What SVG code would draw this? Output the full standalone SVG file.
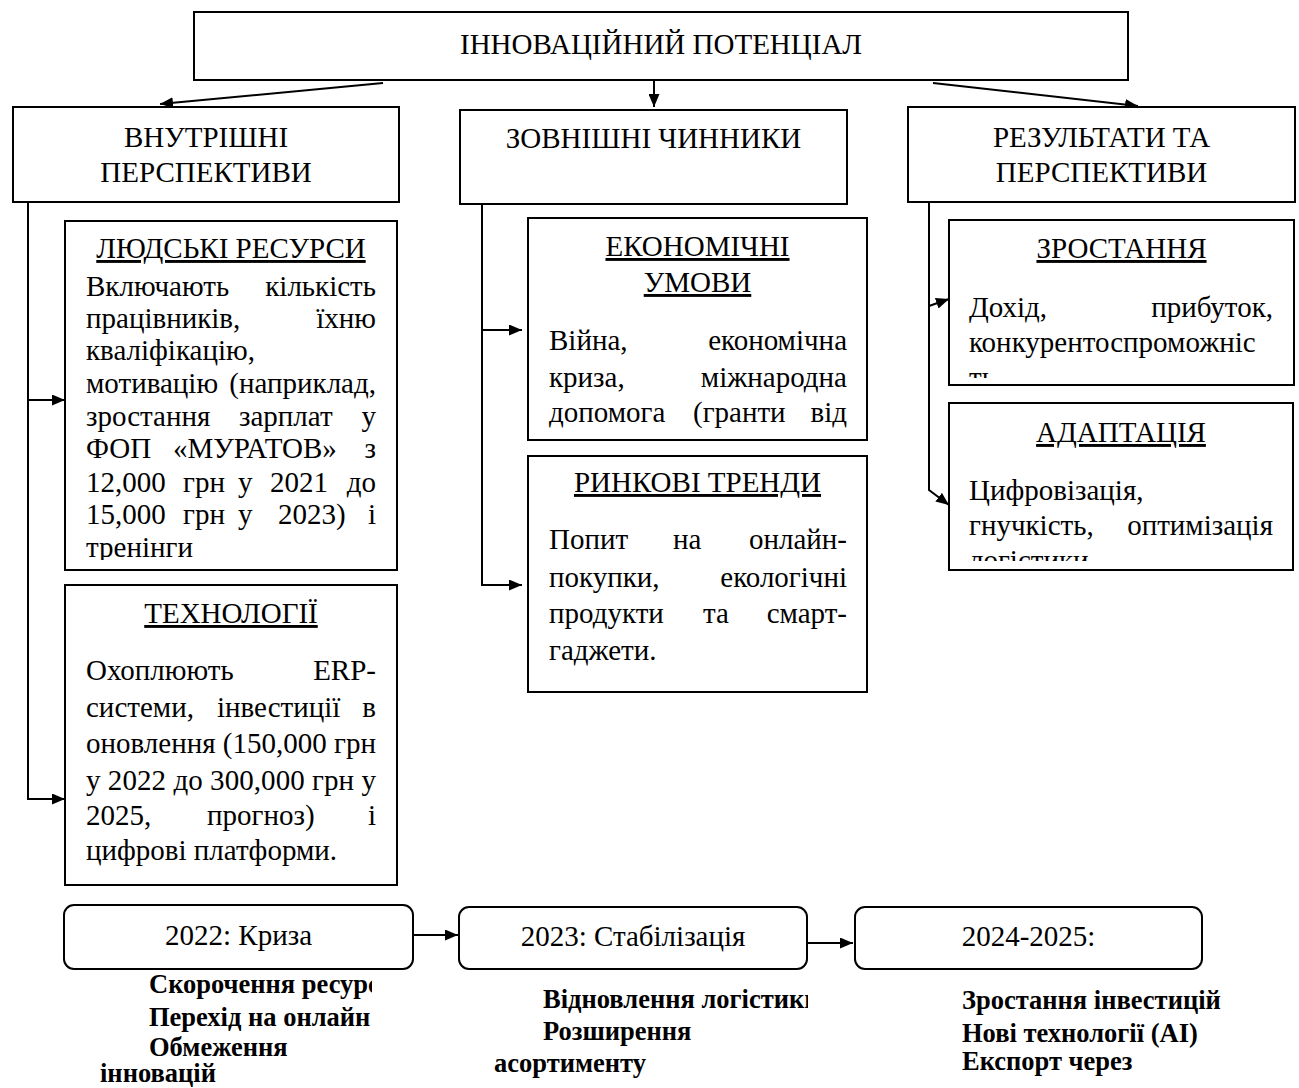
<svg xmlns="http://www.w3.org/2000/svg" width="1299" height="1088" viewBox="0 0 1299 1088">
<style>
.box{fill:#fff;stroke:#000;stroke-width:2}
.t{font-family:"Liberation Serif","Times New Roman",serif;font-size:29px;fill:#000}
.m{text-anchor:middle}
.e{text-anchor:end}
.u{text-decoration:underline}
.b{font-weight:bold;font-size:26.5px}
.c{stroke:#000;stroke-width:2;fill:none;marker-end:url(#ah)}
</style>
<defs>
<marker id="ah" viewBox="0 0 13 11" refX="13" refY="5.5" markerWidth="13" markerHeight="11" markerUnits="userSpaceOnUse" orient="auto">
<path d="M0,0 L13,5.5 L0,11 z" fill="#000"/>
</marker>
<clipPath id="cl1"><rect x="65" y="221" width="332" height="339"/></clipPath>
<clipPath id="cl2"><rect x="949" y="220" width="345" height="158"/></clipPath>
<clipPath id="cl3"><rect x="949" y="403" width="344" height="158"/></clipPath>
<clipPath id="cl4"><rect x="0" y="970" width="372" height="118"/></clipPath>
<clipPath id="cl5"><rect x="420" y="970" width="388" height="118"/></clipPath>
</defs>
<rect width="1299" height="1088" fill="#fff"/>

<g id="connectors">
<path class="c" d="M383,83 L160,104"/>
<path class="c" d="M654,80 L654,107"/>
<path class="c" d="M933,83 L1138,106"/>
<path class="c" d="M28,202 V799 H65"/>
<path class="c" d="M28,400 H65"/>
<path class="c" d="M482,204 V585 H522"/>
<path class="c" d="M482,330 H522"/>
<path class="c" d="M929,202 V490 L949,505"/>
<path class="c" d="M929,306 L949,299"/>
<path class="c" d="M413,935 H458"/>
<path class="c" d="M807,943 H853"/>
</g>

<g id="n-top">
<rect class="box" x="194" y="12" width="934" height="68"/>
<text class="t m" x="661" y="54">ІННОВАЦІЙНИЙ ПОТЕНЦІАЛ</text>
</g>

<g id="n-internal">
<rect class="box" x="13" y="107" width="386" height="95"/>
<text class="t m" x="206" y="147">ВНУТРІШНІ</text>
<text class="t m" x="206" y="182">ПЕРСПЕКТИВИ</text>
</g>

<g id="n-external">
<rect class="box" x="460" y="110" width="387" height="94"/>
<text class="t m" x="653.5" y="148">ЗОВНІШНІ ЧИННИКИ</text>
</g>

<g id="n-results">
<rect class="box" x="908" y="107" width="387" height="95"/>
<text class="t m" x="1101.5" y="147">РЕЗУЛЬТАТИ ТА</text>
<text class="t m" x="1101.5" y="182">ПЕРСПЕКТИВИ</text>
</g>

<g id="n-human">
<rect class="box" x="65" y="221" width="332" height="349"/>
<text class="t m u" x="231" y="258">ЛЮДСЬКІ РЕСУРСИ</text>
<g clip-path="url(#cl1)">
<text class="t" x="86" y="296">Включають</text><text class="t e" x="376" y="296">кількість</text>
<text class="t" x="86" y="328">працівників,</text><text class="t e" x="376" y="328">їхню</text>
<text class="t" x="86" y="360">кваліфікацію,</text>
<text class="t" x="86" y="393">мотивацію</text><text class="t e" x="376" y="393">(наприклад,</text>
<text class="t" x="86" y="426">зростання</text><text class="t" x="239" y="426">зарплат</text><text class="t e" x="376" y="426">у</text>
<text class="t" x="86" y="458">ФОП</text><text class="t" x="173" y="458">«МУРАТОВ»</text><text class="t e" x="376" y="458">з</text>
<text class="t" x="86" y="492">12,000</text><text class="t" x="183" y="492">грн</text><text class="t" x="238" y="492">у</text><text class="t" x="270" y="492">2021</text><text class="t e" x="376" y="492">до</text>
<text class="t" x="86" y="524">15,000</text><text class="t" x="183" y="524">грн</text><text class="t" x="238" y="524">у</text><text class="t" x="278" y="524">2023)</text><text class="t e" x="376" y="524">і</text>
<text class="t" x="86" y="557">тренінги</text>
</g>
</g>

<g id="n-tech">
<rect class="box" x="65" y="585" width="332" height="300"/>
<text class="t m u" x="231" y="623">ТЕХНОЛОГІЇ</text>
<text class="t" x="86" y="680">Охоплюють</text><text class="t e" x="376" y="680">ERP-</text>
<text class="t" x="86" y="717">системи,</text><text class="t" x="217" y="717">інвестиції</text><text class="t e" x="376" y="717">в</text>
<text class="t" x="86" y="753" textLength="290" lengthAdjust="spacing">оновлення (150,000 грн</text>
<text class="t" x="86" y="790" textLength="290" lengthAdjust="spacing">у 2022 до 300,000 грн у</text>
<text class="t" x="86" y="825">2025,</text><text class="t" x="207" y="825">прогноз)</text><text class="t e" x="376" y="825">і</text>
<text class="t" x="86" y="860">цифрові платформи.</text>
</g>

<g id="n-economy">
<rect class="box" x="528" y="218" width="339" height="222"/>
<text class="t m u" x="697.5" y="256">ЕКОНОМІЧНІ</text>
<text class="t m u" x="697.5" y="292">УМОВИ</text>
<text class="t" x="549" y="350">Війна,</text><text class="t e" x="847" y="350">економічна</text>
<text class="t" x="549" y="387">криза,</text><text class="t e" x="847" y="387">міжнародна</text>
<text class="t" x="549" y="422">допомога</text><text class="t" x="693" y="422">(гранти</text><text class="t e" x="847" y="422">від</text>
</g>

<g id="n-market">
<rect class="box" x="528" y="456" width="339" height="236"/>
<text class="t m u" x="697.5" y="492">РИНКОВІ ТРЕНДИ</text>
<text class="t" x="549" y="549">Попит</text><text class="t" x="673" y="549">на</text><text class="t e" x="847" y="549">онлайн-</text>
<text class="t" x="549" y="587">покупки,</text><text class="t e" x="847" y="587">екологічні</text>
<text class="t" x="549" y="623">продукти</text><text class="t" x="703" y="623">та</text><text class="t e" x="847" y="623">смарт-</text>
<text class="t" x="549" y="660">гаджети.</text>
</g>

<g id="n-growth">
<rect class="box" x="949" y="220" width="345" height="165"/>
<text class="t m u" x="1121.5" y="258">ЗРОСТАННЯ</text>
<g clip-path="url(#cl2)">
<text class="t" x="969" y="317">Дохід,</text><text class="t e" x="1273" y="317">прибуток,</text>
<text class="t" x="969" y="352">конкурентоспроможніс</text>
<text class="t" x="969" y="387">ть</text>
</g>
</g>

<g id="n-adapt">
<rect class="box" x="949" y="403" width="344" height="167"/>
<text class="t m u" x="1121" y="442">АДАПТАЦІЯ</text>
<g clip-path="url(#cl3)">
<text class="t" x="969" y="500">Цифровізація,</text>
<text class="t" x="969" y="535">гнучкість,</text><text class="t e" x="1273" y="535">оптимізація</text>
<text class="t" x="969" y="570">логістики</text>
</g>
</g>

<g id="n-2022">
<rect class="box" x="64" y="905" width="349" height="64" rx="10"/>
<text class="t m" x="238.5" y="945">2022: Криза</text>
<g clip-path="url(#cl4)">
<text class="t b" x="149" y="993">Скорочення ресурс</text>
<text class="t b" x="149" y="1026">Перехід на онлайн</text>
<text class="t b" x="149" y="1056">Обмеження</text>
<text class="t b" x="100" y="1082">інновацій</text>
</g>
</g>

<g id="n-2023">
<rect class="box" x="459" y="907" width="348" height="62" rx="10"/>
<text class="t m" x="633" y="946">2023: Стабілізація</text>
<g clip-path="url(#cl5)">
<text class="t b" x="543" y="1008">Відновлення логістики</text>
<text class="t b" x="543" y="1040">Розширення</text>
<text class="t b" x="494" y="1072">асортименту</text>
</g>
</g>

<g id="n-2024">
<rect class="box" x="855" y="907" width="347" height="62" rx="10"/>
<text class="t m" x="1028.5" y="946">2024-2025:</text>
<text class="t b" x="962" y="1009">Зростання інвестицій</text>
<text class="t b" x="962" y="1042">Нові технології (AI)</text>
<text class="t b" x="962" y="1070">Експорт через</text>
</g>
</svg>
